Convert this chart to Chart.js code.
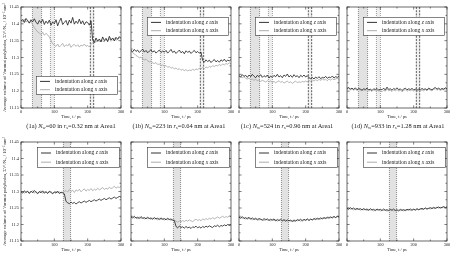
<!DOCTYPE html>
<html><head><meta charset="utf-8">
<script src="https://cdn.jsdelivr.net/npm/chart.js@4/dist/chart.umd.min.js"></script>
<style>
html,body{margin:0;padding:0;background:#fff;}
#wrap{position:relative;width:457px;height:259px;overflow:hidden;background:#fff;}
#wrap canvas{position:absolute;left:0;top:0;}
.cap{position:absolute;top:122px;font-family:'Liberation Serif','Times New Roman',serif;font-size:6.4px;line-height:8px;color:#222;white-space:nowrap;transform:translateX(-50%);}
.cap sub{font-size:4.4px;vertical-align:-1.3px;line-height:0;}
</style></head>
<body><div id="wrap"></div>
<script>
// ---------------- data ----------------
const times = [0,5,10,15,20,25,30,35,40,45,50,55,60,65,70,75,80,85,90,95,100,105,110,115,120,125,130,135,140,145,150,155,160,165,170,175,180,185,190,195,200,205,210,215,220,225,230,235,240,245,250,255,260,265,270,275,280,285,290,295,300];
const seriesLabels = ['indentation along z axis','indentation along x axis'];
const panelIds = ['1a','1b','1c','1d'];
const nWater = [60,223,524,933];
const rSphere = [0.32,0.64,0.96,1.28];
const yTitle = 'Average volume of Voronoi polyhedra, \u03A3V\u2071/N\u2090, / 10\u207B\u00B3 nm\u00B3';
const xTitle = 'Time, t / ps';
const topBandRanges = [[34,62],[88,100]];
const topDashedRange = [208,218];
const bottomBandRange = [127,149];

const z1a = [11.408,11.413,11.404,11.416,11.409,11.402,11.412,11.406,11.415,
 11.405,11.399,11.410,11.403,11.413,11.398,11.408,11.401,11.411,11.396,11.406,
 11.400,11.412,11.394,11.407,11.417,11.398,11.404,11.410,11.396,11.411,11.402,11.419,11.399,11.408,11.401,11.414,11.400,11.409,11.397,11.406,
 11.404,11.396,11.409,
 11.352,11.344,11.358,11.348,11.355,11.346,11.361,11.350,11.357,11.347,11.363,11.352,11.358,11.349,11.360,11.354,11.362,11.357];
const x1a = [11.410,11.406,11.414,11.405,11.411,11.403,11.409,11.397,11.389,
 11.382,11.376,11.373,11.368,11.375,11.366,11.372,11.367,11.361,11.350,11.341,
 11.337,11.333,11.340,11.331,11.336,11.342,11.332,11.338,11.334,11.341,11.330,11.336,11.339,11.333,11.338,11.331,11.337,11.334,11.340,11.333,
 11.336,11.331,11.339,
 11.344,11.349,11.345,11.352,11.347,11.353,11.349,11.346,11.354,11.350,11.356,11.348,11.353,11.357,11.351,11.355,11.359,11.354];
const z1b = [11.321,11.317,11.324,11.318,11.322,11.315,11.320,11.325,11.316,
 11.321,11.314,11.319,11.323,11.316,11.320,11.313,11.318,11.322,11.315,11.319,
 11.316,11.321,11.313,11.318,11.324,11.315,11.319,11.312,11.317,11.322,11.314,11.318,11.311,11.320,11.315,11.319,11.312,11.317,11.321,11.314,
 11.318,11.313,11.316,
 11.291,11.286,11.293,11.288,11.292,11.285,11.290,11.294,11.287,11.291,11.286,11.293,11.289,11.295,11.288,11.292,11.290,11.294];
const x1b = [11.318,11.314,11.311,11.306,11.303,11.299,11.301,11.296,11.293,
 11.295,11.290,11.287,11.289,11.284,11.282,11.285,11.279,11.281,11.276,11.278,
 11.274,11.276,11.271,11.273,11.268,11.271,11.266,11.269,11.264,11.267,11.262,11.265,11.261,11.264,11.260,11.263,11.261,11.265,11.262,11.266,
 11.264,11.268,11.266,
 11.270,11.267,11.272,11.269,11.274,11.271,11.276,11.273,11.277,11.275,11.279,11.276,11.281,11.278,11.282,11.280,11.284,11.281];
const z1c = [11.246,11.242,11.249,11.244,11.247,11.241,11.248,11.243,11.250,
 11.244,11.240,11.247,11.243,11.249,11.241,11.246,11.242,11.248,11.239,11.245,
 11.241,11.247,11.243,11.250,11.242,11.246,11.240,11.248,11.244,11.251,11.242,11.247,11.241,11.249,11.243,11.246,11.240,11.247,11.243,11.248,
 11.242,11.246,11.240,
 11.237,11.241,11.236,11.242,11.238,11.243,11.237,11.241,11.239,11.244,11.238,11.242,11.240,11.245,11.239,11.243,11.241,11.244];
const x1c = [11.245,11.242,11.240,11.243,11.238,11.236,11.239,11.234,11.236,
 11.232,11.235,11.231,11.233,11.229,11.232,11.230,11.227,11.231,11.228,11.230,
 11.226,11.229,11.225,11.228,11.231,11.226,11.229,11.224,11.227,11.230,11.225,11.228,11.223,11.227,11.230,11.225,11.228,11.226,11.229,11.227,
 11.230,11.228,11.232,
 11.229,11.233,11.230,11.234,11.231,11.235,11.232,11.236,11.233,11.235,11.231,11.236,11.233,11.237,11.234,11.236,11.238,11.235];
const z1d = [11.208,11.211,11.206,11.209,11.205,11.210,11.204,11.208,11.206,
 11.203,11.207,11.205,11.209,11.204,11.206,11.202,11.207,11.205,11.208,11.203,
 11.206,11.204,11.209,11.203,11.212,11.205,11.207,11.203,11.208,11.205,11.210,11.204,11.207,11.202,11.206,11.209,11.204,11.207,11.205,11.208,
 11.204,11.206,11.203,
 11.206,11.204,11.208,11.205,11.207,11.203,11.209,11.206,11.204,11.208,11.211,11.206,11.209,11.205,11.208,11.206,11.210,11.207];
const x1d = [11.206,11.208,11.204,11.207,11.203,11.206,11.202,11.205,11.203,
 11.201,11.204,11.202,11.205,11.200,11.203,11.199,11.204,11.201,11.203,11.200,
 11.202,11.198,11.203,11.200,11.206,11.201,11.203,11.199,11.204,11.201,11.205,11.200,11.203,11.198,11.202,11.205,11.200,11.203,11.201,11.204,
 11.200,11.203,11.199,
 11.202,11.200,11.204,11.201,11.205,11.202,11.206,11.203,11.201,11.205,11.207,11.203,11.206,11.202,11.205,11.204,11.207,11.205];

const z2a = [11.299,11.295,11.302,11.297,11.300,11.294,11.301,11.296,11.303,
 11.298,11.293,11.300,11.296,11.302,11.295,11.299,11.294,11.301,11.297,11.293,
 11.299,11.295,11.301,11.294,11.298,11.296,
 11.293,
 11.270,11.266,11.263,11.268,11.264,11.267,11.262,11.266,11.269,11.265,11.268,11.271,11.267,11.270,11.273,11.269,11.272,11.275,11.271,11.274,11.277,11.273,11.276,11.279,11.275,11.278,11.281,11.277,11.280,11.283,11.279,11.282,11.285,11.283];
const x2a = [11.297,11.300,11.295,11.299,11.302,11.296,11.298,11.303,11.295,
 11.300,11.296,11.298,11.302,11.294,11.299,11.301,11.296,11.298,11.300,11.295,
 11.297,11.301,11.296,11.299,11.295,11.298,
 11.300,
 11.303,11.298,11.306,11.300,11.304,11.297,11.305,11.301,11.307,11.299,11.304,11.308,11.301,11.306,11.303,11.309,11.302,11.307,11.304,11.310,11.305,11.308,11.312,11.306,11.310,11.307,11.313,11.309,11.311,11.316,11.310,11.314,11.312,11.316];
const z2b = [11.223,11.220,11.225,11.219,11.222,11.218,11.224,11.219,11.221,
 11.217,11.222,11.218,11.220,11.216,11.221,11.217,11.219,11.215,11.220,11.216,
 11.218,11.214,11.219,11.215,11.217,11.213,
 11.212,
 11.194,11.190,11.195,11.191,11.193,11.189,11.194,11.190,11.192,11.188,11.193,11.191,11.195,11.190,11.193,11.189,11.194,11.191,11.195,11.192,11.196,11.193,11.191,11.196,11.194,11.198,11.193,11.197,11.195,11.199,11.196,11.200,11.197,11.199];
const x2b = [11.221,11.224,11.219,11.222,11.217,11.223,11.218,11.220,11.216,
 11.221,11.217,11.219,11.215,11.220,11.216,11.218,11.214,11.219,11.215,11.217,
 11.213,11.218,11.214,11.216,11.212,11.215,
 11.213,
 11.210,11.207,11.211,11.208,11.212,11.209,11.213,11.210,11.214,11.211,11.209,11.213,11.216,11.212,11.215,11.211,11.217,11.214,11.218,11.215,11.219,11.216,11.221,11.217,11.220,11.223,11.219,11.222,11.225,11.221,11.224,11.222,11.226,11.224];
const z2c = [11.222,11.219,11.224,11.218,11.221,11.217,11.222,11.216,11.220,
 11.215,11.219,11.214,11.218,11.216,11.213,11.218,11.214,11.217,11.212,11.216,
 11.213,11.217,11.211,11.215,11.212,11.216,
 11.211,
 11.215,11.210,11.214,11.211,11.213,11.209,11.214,11.210,11.215,11.212,11.216,11.211,11.215,11.213,11.217,11.212,11.216,11.214,11.218,11.215,11.219,11.216,11.220,11.217,11.221,11.218,11.222,11.219,11.223,11.220,11.224,11.221,11.225,11.223];
const x2c = [11.220,11.223,11.218,11.221,11.216,11.220,11.217,11.219,11.214,
 11.218,11.215,11.217,11.213,11.216,11.214,11.212,11.216,11.213,11.215,11.211,
 11.215,11.212,11.214,11.210,11.214,11.211,
 11.213,
 11.211,11.214,11.209,11.213,11.210,11.212,11.208,11.213,11.211,11.214,11.210,11.213,11.216,11.212,11.215,11.213,11.217,11.214,11.216,11.219,11.215,11.218,11.216,11.220,11.218,11.221,11.219,11.223,11.220,11.222,11.225,11.221,11.224,11.222];
const z2d = [11.249,11.246,11.251,11.247,11.250,11.245,11.249,11.246,11.248,
 11.244,11.248,11.245,11.247,11.243,11.248,11.244,11.246,11.242,11.247,11.244,
 11.246,11.242,11.247,11.243,11.245,11.242,
 11.246,
 11.243,11.247,11.242,11.245,11.241,11.246,11.243,11.245,11.242,11.246,11.244,11.247,11.243,11.246,11.244,11.248,11.245,11.247,11.249,11.246,11.250,11.247,11.249,11.251,11.248,11.252,11.249,11.251,11.253,11.250,11.252,11.254,11.251,11.253];
const x2d = [11.247,11.250,11.246,11.248,11.244,11.249,11.245,11.247,11.243,
 11.247,11.244,11.246,11.242,11.246,11.243,11.245,11.241,11.246,11.243,11.245,
 11.241,11.245,11.242,11.244,11.240,11.244,
 11.242,
 11.245,11.241,11.244,11.240,11.245,11.242,11.244,11.241,11.245,11.243,11.246,11.242,11.245,11.247,11.243,11.246,11.244,11.248,11.245,11.247,11.250,11.246,11.249,11.247,11.251,11.248,11.250,11.253,11.249,11.252,11.250,11.253,11.251,11.254];

const zSeries = [[z1a,z1b,z1c,z1d],[z2a,z2b,z2c,z2d]];
const xSeries = [[x1a,x1b,x1c,x1d],[x2a,x2b,x2c,x2d]];

// ---------------- layout ----------------
const FONT = "'Liberation Serif','Times New Roman',serif";
const colLeft = [21,131,239,347];
const colRight = [121,231,339,447];
const rowTop = [7,142];
const rowBottom = [108,241];

const framePlugin = {
  id: 'frame',
  beforeDatasetsDraw(chart, args, opts) {
    const {ctx, chartArea: a, scales: {x}} = chart;
    ctx.save();
    ctx.beginPath(); ctx.rect(a.left, a.top, a.right - a.left, a.bottom - a.top); ctx.clip();
    opts.bands.forEach(b => {
      const x0 = x.getPixelForValue(b.from), x1 = x.getPixelForValue(b.to);
      ctx.fillStyle = b.fill;
      ctx.fillRect(x0, a.top, x1 - x0, a.bottom - a.top);
      ctx.strokeStyle = b.edge; ctx.lineWidth = b.width; ctx.setLineDash(b.dash);
      [x0, x1].forEach(px => { ctx.beginPath(); ctx.moveTo(px, a.top); ctx.lineTo(px, a.bottom); ctx.stroke(); });
    });
    ctx.restore();
  },
  afterDatasetsDraw(chart, args, opts) {
    const {ctx, chartArea: a, scales: {x, y}} = chart;
    ctx.save();
    ctx.setLineDash([]);
    ctx.strokeStyle = '#2a2a2a'; ctx.lineWidth = 0.7;
    ctx.strokeRect(a.left, a.top, a.right - a.left, a.bottom - a.top);
    const vals = s => s.ticks.map(t => t.value);
    const mids = v => { const m = []; for (let i = 0; i < v.length - 1; i++) m.push((v[i] + v[i + 1]) / 2); return m; };
    const xv = vals(x), yv = vals(y);
    ctx.lineWidth = 0.6;
    const xt = (v, len) => { const p = x.getPixelForValue(v); ctx.beginPath(); ctx.moveTo(p, a.bottom); ctx.lineTo(p, a.bottom - len); ctx.moveTo(p, a.top); ctx.lineTo(p, a.top + len); ctx.stroke(); };
    const yt = (v, len) => { const p = y.getPixelForValue(v); ctx.beginPath(); ctx.moveTo(a.left, p); ctx.lineTo(a.left + len, p); ctx.moveTo(a.right, p); ctx.lineTo(a.right - len, p); ctx.stroke(); };
    xv.forEach(v => xt(v, 2.6)); mids(xv).forEach(v => xt(v, 1.5));
    yv.forEach(v => yt(v, 2.6)); mids(yv).forEach(v => yt(v, 1.5));
    // legend box
    const L = opts.legend;
    ctx.fillStyle = '#fff';
    ctx.fillRect(L.left, L.top, L.w, L.h);
    ctx.strokeStyle = '#333'; ctx.lineWidth = 0.6;
    ctx.strokeRect(L.left + 0.5, L.top + 0.5, L.w, L.h);
    const rowsY = [L.top + L.h * 0.3, L.top + L.h * 0.76];
    chart.data.datasets.forEach((ds, i) => {
      const yy = rowsY[i];
      ctx.strokeStyle = ds.borderColor; ctx.lineWidth = 0.9;
      ctx.beginPath(); ctx.moveTo(L.left + 4, yy); ctx.lineTo(L.left + 14, yy); ctx.stroke();
      let tx = L.left + 19;
      ctx.fillStyle = '#1e1e1e'; ctx.textBaseline = 'middle'; ctx.textAlign = 'left';
      ds.label.split(' ').forEach((w, k, arr) => {
        ctx.font = (w.length === 1 ? 'italic ' : '') + '5.5px ' + FONT;
        const txt = w + (k < arr.length - 1 ? ' ' : '');
        ctx.fillText(txt, tx, yy);
        tx += ctx.measureText(txt).width;
      });
    });
    ctx.restore();
  }
};

const wrap = document.getElementById('wrap');

function legendFor(row, col) {
  if (row === 0 && col === 0) return {left: 36, top: 76, w: 81, h: 18};
  if (row === 0) return {left: colRight[col] - 3 - 81, top: rowTop[row] + 10, w: 81, h: 18};
  return {left: colRight[col] - 2 - 82, top: rowTop[row] + 5, w: 82, h: 20};
}

function bandsFor(row) {
  if (row === 0) {
    return [
      {from: topBandRanges[0][0], to: topBandRanges[0][1], fill: '#e2e2e2', edge: '#777', dash: [1, 1], width: 0.8},
      {from: topBandRanges[1][0], to: topBandRanges[1][1], fill: '#efefef', edge: '#888', dash: [1, 1], width: 0.8},
      {from: topDashedRange[0], to: topDashedRange[1], fill: '#f1f1f1', edge: '#333', dash: [2, 1.2], width: 0.8}
    ];
  }
  return [{from: bottomBandRange[0], to: bottomBandRange[1], fill: '#e2e2e2', edge: '#777', dash: [1, 1], width: 0.8}];
}

function zeroPad(s) { s.paddingLeft = 0; s.paddingRight = 0; s.paddingTop = 0; s.paddingBottom = 0; }

function makeChart(row, col) {
  const cv = document.createElement('canvas');
  cv.width = 457; cv.height = 259;
  cv.style.width = '457px'; cv.style.height = '259px';
  wrap.appendChild(cv);
  const first = col === 0;
  const W = first ? 19 : 0, H = 11;
  const L = colLeft[col], R = colRight[col], T = rowTop[row], B = rowBottom[row];
  new Chart(cv, {
    type: 'line',
    data: {
      datasets: [
        {label: seriesLabels[0], data: times.map((t, i) => ({x: t, y: zSeries[row][col][i]})),
         borderColor: '#1c1c1c', borderWidth: 0.8, pointRadius: 0, tension: 0, fill: false},
        {label: seriesLabels[1], data: times.map((t, i) => ({x: t, y: xSeries[row][col][i]})),
         borderColor: '#a4a4a4', borderWidth: 0.8, pointRadius: 0, tension: 0, fill: false}
      ]
    },
    options: {
      responsive: false, animation: false, devicePixelRatio: 1,
      layout: {autoPadding: false, padding: {left: L - W, right: 457 - R, top: T, bottom: 259 - B - H}},
      scales: {
        x: {
          type: 'linear', min: 0, max: 300,
          afterFit: s => { s.height = H; zeroPad(s); },
          ticks: {stepSize: 100, padding: 1.2, maxRotation: 0, autoSkip: false, color: '#222', font: {family: FONT, size: 4.3}},
          grid: {display: false, drawTicks: false},
          border: {display: false},
          title: {display: true, text: xTitle, color: '#222', padding: 0, font: {family: FONT, size: 4.3}}
        },
        y: {
          type: 'linear', min: 11.15, max: 11.45,
          afterFit: s => { s.width = W; zeroPad(s); },
          ticks: {display: first, stepSize: 0.05, padding: 2, color: '#222', font: {family: FONT, size: 4.4},
                  callback: v => String(+(+v).toFixed(2))},
          grid: {display: false, drawTicks: false},
          border: {display: false},
          title: {display: first, text: yTitle, color: '#222', padding: 0, font: {family: FONT, size: 4.7}}
        }
      },
      plugins: {
        legend: {display: false},
        tooltip: {enabled: false},
        frame: {bands: bandsFor(row), legend: legendFor(row, col)}
      }
    },
    plugins: [framePlugin]
  });
}

for (let r = 0; r < 2; r++) for (let c = 0; c < 4; c++) makeChart(r, c);

// captions (top row)
const capCenters = [71, 179, 287, 398];
panelIds.forEach((id, i) => {
  const d = document.createElement('div');
  d.className = 'cap';
  d.style.left = capCenters[i] + 'px';
  d.innerHTML = '(' + id + ') <i>N</i><sub>w</sub>=' + nWater[i] + ' in <i>r</i><sub>s</sub>=' + rSphere[i].toFixed(2) + ' nm at Area1';
  wrap.appendChild(d);
});
</script>
</body></html>
